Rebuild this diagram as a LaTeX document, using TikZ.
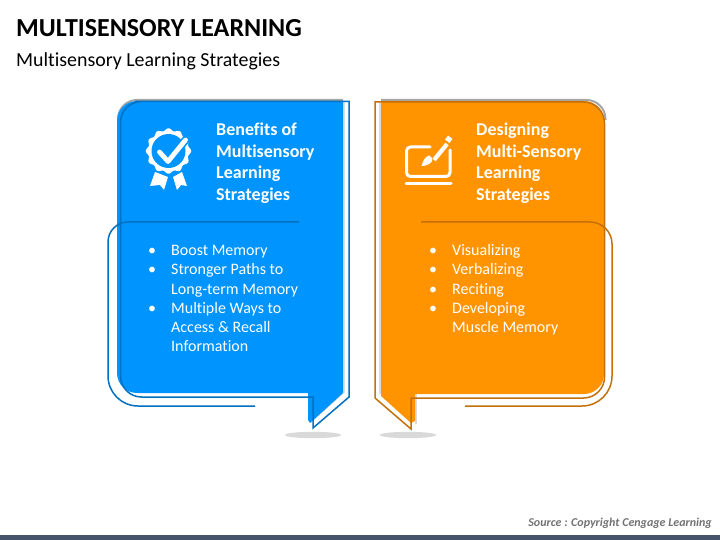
\documentclass[tikz,border=0pt]{standalone}
\usepackage{fontspec}
\setmainfont{Carlito}[Ligatures=NoCommon]
\definecolor{bluebody}{RGB}{0,148,255}
\definecolor{blueline}{RGB}{0,112,192}
\definecolor{orangebody}{RGB}{255,148,0}
\definecolor{orangeline}{RGB}{197,112,10}
\definecolor{bandcolor}{RGB}{68,84,106}
\definecolor{floorcolor}{RGB}{217,217,217}
\newcommand{\listfont}{\fontsize{16}{19.2}\selectfont}
\tikzset{
  heading/.style={anchor=north west, inner sep=0pt, align=left, text=white,
    font=\fontsize{18}{21.8}\selectfont\bfseries},
  bulletlist/.style={anchor=north west, inner sep=0pt, text=white, font=\listfont},
  outline/.style={line width=1.5pt, line join=miter},
  softedge/.style={line width=1.6pt, black, opacity=0.14},
  iconline/.style={white, line width=3pt, line cap=round, line join=round}
}
\begin{document}
\begin{tikzpicture}[x=1pt, y=-1pt]
  \useasboundingbox (0,0) rectangle (720,540);
  \fill[white] (0,0) rectangle (720,540);
  \fill[bandcolor] (0,535) rectangle (720,540);

  \node[anchor=base west, inner sep=0pt, font=\fontsize{26}{30}\selectfont\bfseries] (title) at (16,37) {MULTISENSORY LEARNING};
  \node[anchor=base west, inner sep=0pt, font=\fontsize{19.9}{22}\selectfont] (subtitle) at (16,67) {Multisensory Learning Strategies};
  \node[anchor=base east, inner sep=0pt, text=black!55, font=\fontsize{12}{14}\selectfont\bfseries\itshape] (source) at (712,526) {Source : Copyright Cengage Learning};

  \fill[floorcolor] (313,435) ellipse (28pt and 3.2pt);
  \fill[floorcolor] (408,435) ellipse (28pt and 3.2pt);

  \draw[black, opacity=0.35, line width=2pt] (118,120) [rounded corners=19pt] -- (118,100) -- (200,100) [sharp corners] -- (343,100);
  \draw[softedge] (344,102) -- (344,392) -- (311,422);
  \draw[softedge] (309,394) -- (309,420);
  \fill[bluebody] (343,101) -- (343,393) -- (310,423) -- (308,420) -- (308,393) [rounded corners=20pt] -- (117,393) -- (117,101) [sharp corners] -- cycle;
  \draw[outline, blueline] (135,101.5) -- (349,101.5) -- (349,397) -- (313,428) -- (313,397) [rounded corners=21pt] -- (120.5,397) -- (120.5,101.5) [sharp corners] -- (135,101.5);
  \draw[outline, blueline] (299,222) [rounded corners=20pt] -- (108,222) [rounded corners=30pt] -- (108,406) [sharp corners] -- (255,406);

  \draw[black, opacity=0.35, line width=2pt] (605.5,120) [rounded corners=19pt] -- (605.5,100) -- (520,100) [sharp corners] -- (381,100);
  \draw[softedge] (380,102) -- (380,394);
  \draw[softedge] (416,394) -- (416,424);
  \fill[orangebody] (381,101) -- (381,396) -- (411,423) -- (415,421) -- (415,394) [rounded corners=20pt] -- (604,394) -- (604,101) [sharp corners] -- cycle;
  \draw[outline, orangeline] (375,102) [rounded corners=0pt] -- (375,398) -- (411,429) -- (411,398) [rounded corners=21pt] -- (604.5,398) -- (604.5,102) [sharp corners] -- (375,102) -- cycle;
  \draw[outline, orangeline] (421,222) [rounded corners=22pt] -- (612,222) [rounded corners=30pt] -- (612,406) [sharp corners] -- (465,406);

  \fill[white] plot[domain=0:360, samples=145] ({168.5+(21.5+1.2*cos(12*\x))*cos(\x)},{151+(21.5+1.2*cos(12*\x))*sin(\x)}) -- cycle;
  \fill[bluebody] (168.5,151) circle (17pt);
  \fill[white] (155,172) -- (150,186) -- (160,185) -- (164,190) -- (168,177) -- cycle;
  \fill[white] (173,177) -- (177,190) -- (181,185) -- (187,186) -- (182,172) -- cycle;
  \draw[bluebody, line width=8pt, line cap=round, line join=round] (159.5,152) -- (168,161.5) -- (185.5,140);
  \draw[white, line width=4.8pt, line cap=round, line join=round] (159.5,152) -- (168,161.5) -- (185.5,140);

  \draw[iconline, rounded corners=4pt] (430,147) -- (406.5,147) -- (406.5,176.5) -- (450,176.5) -- (450,150);
  \draw[iconline] (406,184) -- (451,184);
  \draw[white, line width=4.2pt] (434,160) -- (447,144);
  \fill[white] (452.5,139) -- (448,135.5) -- (445,139.5) -- (449.5,143) -- cycle;
  \fill[white] (421.5,166) .. controls (423,160) and (426,156) .. (429.5,155.5) .. controls (432,157) and (433,159) .. (432,161.5) .. controls (429,165) and (425,166) .. (421.5,166) -- cycle;

  \node[heading] (bluehead) at (216,122.5) {Benefits of\\Multisensory\\Learning\\Strategies};
  \node[heading] (orangehead) at (476,122.5) {Designing\\Multi-Sensory\\Learning\\Strategies};
  \node[bulletlist] (bluelist) at (148,242) {\begin{tabular}{@{}p{23pt}@{}l@{}}
    \textbullet & Boost Memory\\
    \textbullet & Stronger Paths to\\
    & Long-term Memory\\
    \textbullet & Multiple Ways to\\
    & Access \& Recall\\
    & Information
  \end{tabular}};
  \node[bulletlist] (orangelist) at (429,242) {\begin{tabular}{@{}p{23pt}@{}l@{}}
    \textbullet & Visualizing\\
    \textbullet & Verbalizing\\
    \textbullet & Reciting\\
    \textbullet & Developing\\
    & Muscle Memory
  \end{tabular}};
\end{tikzpicture}
\end{document}
